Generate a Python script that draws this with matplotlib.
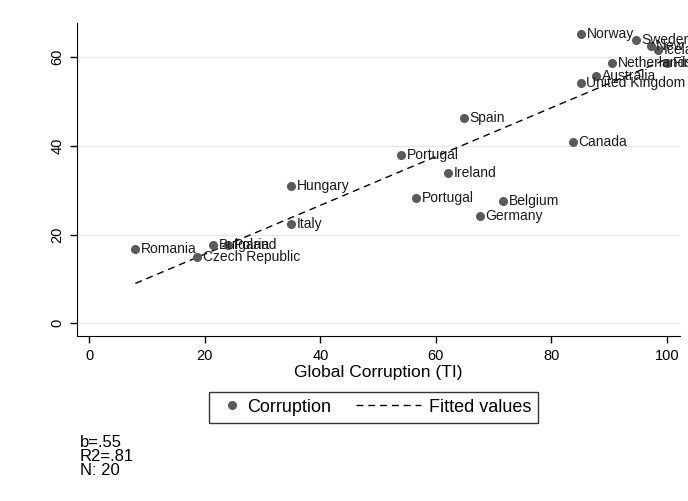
import numpy as np
import matplotlib.pyplot as plt
from matplotlib.legend_handler import HandlerLine2D
from matplotlib.lines import Line2D

plt.rcParams['font.family'] = ['Liberation Sans', 'DejaVu Sans']

# scatter data
countries = ["Norway", "Sweden", "New Zealand", "Iceland", "Finland", "Netherlands",
             "Australia", "United Kingdom", "Spain", "Canada", "Portugal", "Ireland",
             "Hungary", "Portugal", "Belgium", "Germany", "Italy", "Romania",
             "Bulgaria", "Poland", "Czech Republic"]
corruption_ti = [85.1, 94.6, 97.2, 98.4, 100.0, 90.5, 87.7, 85.1, 64.9, 83.7, 54.0, 62.1,
                 34.9, 56.6, 71.6, 67.6, 34.9, 8.0, 21.5, 24.1, 18.7]
corruption = [65.2, 63.9, 62.6, 61.7, 58.8, 58.7, 55.8, 54.2, 46.3, 40.9, 37.9, 33.9,
              30.9, 28.2, 27.5, 24.2, 22.3, 16.7, 17.6, 17.6, 14.9]

# fitted line endpoints
fit_x = [8.0, 100.0]
fit_y = [9.0, 59.6]


class MarkerKey(HandlerLine2D):
    # marker sits at the right end of the key slot
    def create_artists(self, legend, orig_handle, xdescent, ydescent,
                       width, height, fontsize, trans):
        m = Line2D([width - 5.3], [height / 2 - ydescent], marker='o', ls='none',
                   color=orig_handle.get_color(), ms=orig_handle.get_markersize())
        m.set_transform(trans)
        return [m]


class DashKey(HandlerLine2D):
    # dashed key is longer than the slot, runs back into the column gap
    def create_artists(self, legend, orig_handle, xdescent, ydescent,
                       width, height, fontsize, trans):
        yc = height / 2 - ydescent
        ln = Line2D([width - 46.8, width], [yc, yc], color='black', lw=1,
                    dashes=(5, 3.5))
        ln.set_transform(trans)
        return [ln]


fig = plt.figure(figsize=(6.88, 5.01), dpi=100)
ax = fig.add_axes([0.112, 0.329, 0.876, 0.625])

for yv in [0, 20, 40, 60]:
    ax.axhline(yv, color='#e8e8e8', lw=1, zorder=0)

pts, = ax.plot(corruption_ti, corruption, 'o', color='#5a5a5a', ms=5.5, mec='#5a5a5a',
               label='Corruption', zorder=3)
for name, xv, yv in zip(countries, corruption_ti, corruption):
    ax.annotate(name, (xv, yv), xytext=(4, 0), textcoords='offset points',
                va='center', ha='left', fontsize=10, color='#1a1a1a',
                annotation_clip=False, zorder=4)
fit, = ax.plot(fit_x, fit_y, color='black', lw=1, dashes=(5, 3.5),
               label='Fitted values', zorder=2)

ax.set_xlim(-2.1, 102.2)
ax.set_ylim(-2.9, 67.7)
ax.set_xticks([0, 20, 40, 60, 80, 100])
ax.set_yticks([0, 20, 40, 60])
for lbl in ax.get_yticklabels():
    lbl.set_rotation(90)
    lbl.set_va('center')
ax.tick_params(labelsize=10.5, length=5, width=1, direction='out', pad=4)
ax.spines['top'].set_visible(False)
ax.spines['right'].set_visible(False)
ax.set_xlabel('Global Corruption (TI)', fontsize=12.5, labelpad=1.5)

leg = fig.legend(handles=[pts, fit], loc='center', bbox_to_anchor=(0.543, 0.187),
                 ncol=2, fontsize=13, frameon=True, fancybox=False, edgecolor='black',
                 handlelength=1.3, handletextpad=0.42, columnspacing=3.7,
                 borderpad=0.38, handler_map={pts: MarkerKey(), fit: DashKey()})
leg.get_frame().set_linewidth(1)

fig.text(0.116, 0.088, "b=.55\nR2=.81\nN: 20", fontsize=12, va='center',
         ha='left', linespacing=0.92)

fig.savefig('out.png', dpi=100)
